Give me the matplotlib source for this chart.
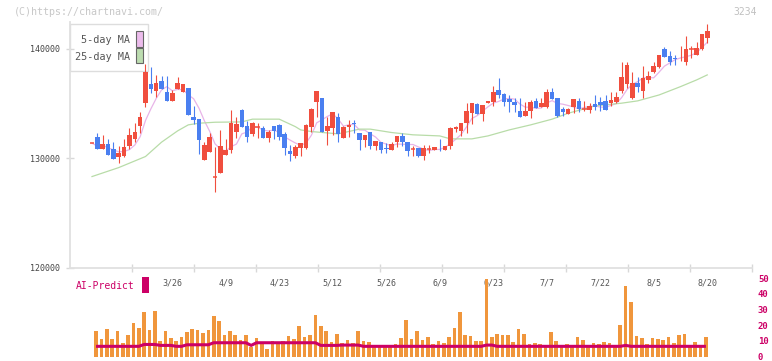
import matplotlib
matplotlib.use('Agg')
import matplotlib.pyplot as plt
import numpy as np
import pandas as pd
from matplotlib.patches import Rectangle

plt.rcParams['font.family'] = ['DejaVu Sans Mono', 'DejaVu Sans']

# ---------------- data ----------------
opens = [131370, 131940, 130880, 131300, 130850, 130150, 130210, 131120, 131790, 132980,
         135010, 136780, 136170, 137050, 136050, 135260, 136290, 136080, 136410, 133800,
         133580, 129850, 130570, 128230, 128690, 130330, 130760, 132430, 134400, 132950,
         132220, 132880, 132790, 131880, 132920, 133040, 132220, 130670, 130240, 130970,
         130970, 132820, 135100, 135470, 132490, 132730, 133800, 131880, 132880, 133250,
         132340, 131670, 132430, 131150, 131520, 130970, 130700, 131430, 132030, 131490,
         130850, 130970, 130240, 130820, 130700, 130970, 130760, 131120, 132640, 132520,
         133250, 134160, 134950, 134010, 135010, 135170, 136230, 135860, 135410, 135170,
         134310, 133890, 134310, 135230, 134710, 134710, 136050, 135530, 134470, 134010,
         134710, 135230, 134500, 134410, 134950, 135170, 135230, 135070, 135170, 136170,
         136750, 135470, 136900, 136140, 137140, 137900, 138360, 139940, 139330, 139180,
         139120, 138810, 139940, 139420, 139940, 141000]
highs = [131370, 132320, 132120, 131720, 131460, 131120, 131790, 132730, 133190, 134250,
         138600, 138300, 137600, 137510, 137510, 136230, 137380, 136780, 136410, 134770,
         133580, 131520, 132280, 131000, 132580, 131730, 134400, 133740, 134500, 133400,
         133280, 133190, 132920, 132550, 132920, 133130, 132430, 131210, 131210, 131400,
         133130, 134590, 136140, 135470, 133800, 134190, 134100, 132950, 133490, 133490,
         132340, 132120, 132430, 131580, 131520, 131370, 131460, 132030, 132280, 131490,
         131120, 130970, 131210, 131210, 131060, 131730, 131120, 132820, 132950, 133250,
         135070, 135070, 135010, 134860, 135230, 136620, 137290, 135990, 135770, 135470,
         135470, 135170, 135320, 135470, 135500, 136320, 136380, 135530, 134700, 134620,
         135410, 135470, 135230, 135020, 135770, 135620, 135770, 136080, 136080, 138810,
         138810, 137900, 137450, 138450, 137990, 138810, 139420, 140180, 139790, 139420,
         140240, 141150, 140240, 140640, 141340, 142250]
lows = [131370, 130820, 130880, 130300, 129940, 129600, 130150, 130820, 131520, 132280,
        134710, 135990, 135560, 136320, 135260, 135260, 136290, 136000, 133950, 133130,
        130360, 129850, 130570, 126870, 128690, 130330, 130450, 131880, 132880, 131430,
        132060, 131880, 131880, 131520, 131730, 131670, 130300, 129750, 130060, 130240,
        130850, 132430, 133800, 132430, 131210, 132120, 131460, 131880, 131970, 132280,
        130700, 131060, 130820, 130760, 130450, 130450, 130700, 131060, 131120, 130210,
        130210, 130150, 129790, 130450, 130700, 130670, 130760, 130820, 132430, 132030,
        132280, 133130, 134010, 133430, 135010, 134770, 135470, 134770, 134250, 134250,
        133800, 133890, 133650, 134560, 134710, 134560, 135380, 133740, 133890, 134010,
        134160, 134250, 134350, 134160, 134400, 134340, 134400, 134800, 135000, 135990,
        136450, 135380, 136080, 135530, 136840, 137750, 138200, 139210, 138510, 138510,
        138870, 138510, 139180, 139420, 139880, 140550]
closes = [131370, 130820, 131300, 130330, 129940, 130500, 131000, 132120, 132430, 133740,
          137900, 136290, 136900, 136320, 135260, 135990, 136900, 136780, 133950, 133490,
          131670, 131210, 131910, 128240, 131120, 130760, 133190, 133130, 132880, 131970,
          133220, 132890, 131880, 132400, 132520, 131970, 130970, 130420, 131060, 131400,
          133040, 134500, 136140, 132430, 132950, 134190, 132220, 132820, 133040, 133130,
          131670, 132120, 131150, 131580, 130700, 130880, 131300, 132030, 131430, 130610,
          130860, 130210, 130970, 130850, 131060, 130910, 131120, 132730, 132820, 133250,
          134310, 135010, 134010, 134860, 135230, 136020, 135770, 135100, 135170, 134860,
          133800, 134310, 135170, 134560, 135070, 136080, 135380, 133860, 134250, 134470,
          135410, 134470, 134510, 134770, 134710, 134860, 134410, 135320, 135620, 137440,
          138510, 136840, 136530, 137350, 137540, 138420, 139420, 139270, 138810, 139060,
          139180, 139970, 139950, 140030, 141340, 141610]

date_labels = ["3/26", "4/9", "4/23", "5/12", "5/26", "6/9", "6/23", "7/7", "7/22", "8/5", "8/20"]
date_label_idx = [15, 25, 35, 45, 55, 65, 75, 85, 95, 105, 115]

ma25_idx = [0, 5, 10, 13, 16, 18, 20, 23, 28, 30, 35, 38, 39, 41, 46, 50, 52, 56, 60, 65,
            67, 71, 74, 78, 82, 86, 89, 94, 99, 102, 106, 110, 113, 115]
ma25_val = [128320, 129140, 130150, 131460, 132490, 133040, 133190, 133280, 133310, 133560,
            133560, 132880, 132580, 132430, 132220, 132650, 132650, 132340, 132130, 132030,
            131760, 131760, 132030, 132580, 133040, 133560, 134100, 134770, 135020, 135230,
            135770, 136530, 137140, 137600]

ai_bars = [16.1, 11, 17.4, 11, 16.1, 8.6, 13.5, 21.3, 18.1, 28.4,
           16.8, 29, 9.7, 16.1, 11.6, 9.7, 12.3, 15.5, 17.4, 16.8,
           14.8, 16.8, 25.8, 22.6, 13.5, 16.1, 13.5, 10.3, 13.5, 6,
           11.6, 8.6, 4.5, 9.7, 8.6, 9.7, 12.9, 11, 19.4, 12.3,
           13.5, 26.5, 19.4, 16.1, 9, 14.2, 8.6, 10.3, 8.6, 16.1,
           9.7, 9, 7.1, 7.1, 7.1, 6, 7.7, 11.6, 23.2, 11,
           16, 10.3, 12.3, 8, 9.7, 8.4, 12.3, 18.1, 28.6, 13.5,
           12.9, 9.7, 9.7, 49.7, 12.3, 14.2, 13.5, 13.5, 9, 17.4,
           14.2, 7.7, 8.4, 7.7, 7.1, 15.5, 9.7, 7.1, 7.7, 7.1,
           12.3, 10.3, 7.1, 8.4, 7.7, 9, 8.4, 7.1, 20, 45.2,
           34.8, 12.9, 11.6, 7.7, 11.6, 11, 10.3, 12.3, 8.4, 13.5,
           14.2, 7.1, 9, 7.1, 12.3]
ai_line = [6.5, 6.5, 6.5, 6.5, 6.5, 6.5, 6.5, 6.5, 6.5, 7.7,
           7.7, 7.7, 7.1, 7.1, 7.1, 6.5, 6.5, 7.5, 7.5, 7.5,
           7.5, 7.5, 8.8, 8.8, 8.8, 8.8, 8.8, 8.8, 8.8, 7.1,
           8.8, 8.8, 8.8, 8.8, 8.8, 8.8, 8.8, 8.8, 8.8, 8.8,
           8.8, 8.8, 7.1, 7.1, 7.1, 7.1, 7.3, 7.3, 7.3, 7.3,
           6.5, 6.5, 6.5, 6.5, 6.5, 6.5, 6.5, 6.5, 6.5, 6.5,
           6.5, 6.5, 6.5, 6.5, 6.5, 6.5, 6.5, 6.5, 6.5, 6.5,
           6.5, 6.5, 6.5, 7.3, 7.3, 6.5, 6.5, 6.5, 6.5, 6.5,
           6.5, 6.5, 6.5, 6.5, 6.5, 6.5, 6.5, 6.5, 6.5, 6.5,
           6.5, 6.5, 6.5, 6.5, 6.5, 6.5, 6.5, 6.5, 6.5, 7.1,
           6.5, 6.5, 6.5, 6.5, 6.5, 6.5, 6.5, 6.5, 6.5, 6.5,
           6.5, 6.5, 6.5, 6.5, 6.5]

# ---------------- styling ----------------
W, H = 772, 361
RED = '#f04e3e'
BLUE = '#4a7ff0'
PINK = '#e8b4e8'
GREEN = '#b8dca8'
MAG = '#cc0066'
ORANGE = '#f0963c'
AXC = '#e0e0e0'


def fx(x):
    return x / W


def fy(y):
    return 1 - y / H


fig = plt.figure(figsize=(W / 100, H / 100), dpi=100)
fig.patch.set_facecolor('white')

XL = (-4.112, 123.42)

ax = fig.add_axes([fx(70), fy(267.7), fx(752.3) - fx(70), fy(22) - fy(267.7)])
ax.set_facecolor('none')
ax.set_xlim(*XL)
ax.set_ylim(120000, 142430)

o = np.array(opens, float)
h = np.array(highs, float)
l = np.array(lows, float)
c = np.array(closes, float)
idx = np.arange(len(o))
cols = np.where(c >= o, RED, BLUE)

ma5 = pd.Series(c).rolling(5, min_periods=1).mean().values
ax.plot(idx, ma5, color=PINK, lw=0.9, zorder=2)
ax.plot(ma25_idx, ma25_val, color=GREEN, lw=0.9, zorder=2)

ax.vlines(idx, l, h, colors=cols, lw=0.8, zorder=3)
body = np.abs(c - o)
isbody = body > 40
ax.bar(idx[isbody], body[isbody], bottom=np.minimum(o, c)[isbody], width=0.85,
       color=cols[isbody], linewidth=0, zorder=4)
dj = ~isbody
ax.hlines(c[dj], idx[dj] - 0.45, idx[dj] + 0.45, colors=cols[dj], lw=1.1, zorder=4)

for s in ['top', 'right']:
    ax.spines[s].set_visible(False)
for s in ['left', 'bottom']:
    ax.spines[s].set_color(AXC)
    ax.spines[s].set_linewidth(1.3)

ax.set_yticks([120000, 130000, 140000])
ax.set_yticklabels(['120000', '130000', '140000'])
ax.tick_params(axis='y', direction='inout', length=6, width=1, color='#d8d8d8',
               labelsize=6, labelcolor='#444444', pad=4)

major_x = [XL[0] + (XL[1] - XL[0]) * k / 11 for k in range(1, 12)]
ax.set_xticks(major_x)
ax.set_xticklabels([''] * len(major_x))
ax.tick_params(axis='x', which='major', direction='inout', length=6, width=1, color='#d8d8d8')
ax.set_xticks(date_label_idx, minor=True)
ax.set_xticklabels(date_labels, minor=True)
ax.tick_params(axis='x', which='minor', length=0, pad=8, labelsize=6, labelcolor='#555555')

# legend box
ax.add_patch(Rectangle((fx(70), fy(71)), fx(148) - fx(70), fy(24) - fy(71),
                       transform=fig.transFigure, facecolor='white', edgecolor='#dddddd',
                       lw=1, zorder=1, clip_on=False))
ax.text(fx(130), fy(40), '5-day MA', transform=fig.transFigure, ha='right', va='center',
        fontsize=7.3, color='#555555', zorder=1.5)
ax.text(fx(130), fy(57), '25-day MA', transform=fig.transFigure, ha='right', va='center',
        fontsize=7.3, color='#555555', zorder=1.5)
ax.add_patch(Rectangle((fx(136), fy(46.7)), fx(142.7) - fx(136), fy(31) - fy(46.7),
                       transform=fig.transFigure, facecolor='#ecbcec', edgecolor='#666666',
                       lw=0.8, zorder=1.5, clip_on=False))
ax.add_patch(Rectangle((fx(136), fy(63.3)), fx(142.7) - fx(136), fy(48.3) - fy(63.3),
                       transform=fig.transFigure, facecolor='#bcdcb0', edgecolor='#666666',
                       lw=0.8, zorder=1.5, clip_on=False))

# ---------------- AI-Predict panel ----------------
ax2 = fig.add_axes([fx(70), fy(356.5), fx(752.3) - fx(70), fy(278.3) - fy(356.5)])
ax2.set_facecolor('none')
ax2.set_xlim(*XL)
ax2.set_ylim(0, 50)
ai_x = np.arange(len(ai_bars)) + 0.75
ax2.bar(ai_x, ai_bars, width=0.68, color=ORANGE, linewidth=0, zorder=2)
ax2.plot(ai_x, ai_line, color=MAG, lw=2.2, zorder=3, solid_capstyle='butt')
for s in ax2.spines.values():
    s.set_visible(False)
ax2.set_xticks([])
ax2.yaxis.tick_right()
ax2.set_yticks([0, 10, 20, 30, 40, 50])
ax2.tick_params(axis='y', length=0, pad=4, labelsize=6.5, labelcolor=MAG)
for t in ax2.get_yticklabels():
    t.set_fontweight('bold')

fig.text(fx(76), fy(286), 'AI-Predict', color=MAG, fontsize=7, ha='left', va='center')
fig.add_artist(Rectangle((fx(142), fy(293)), fx(148.7) - fx(142), fy(277) - fy(293),
                         transform=fig.transFigure, facecolor=MAG, edgecolor='none'))

fig.text(fx(14), fy(12.3), '(C)https://chartnavi.com/', color='#c8c8c8', fontsize=7.2,
         ha='left', va='center')
fig.text(fx(757), fy(12.3), '3234', color='#c0c0c0', fontsize=7, ha='right', va='center')

fig.savefig('out.png', dpi=100, facecolor='white')
